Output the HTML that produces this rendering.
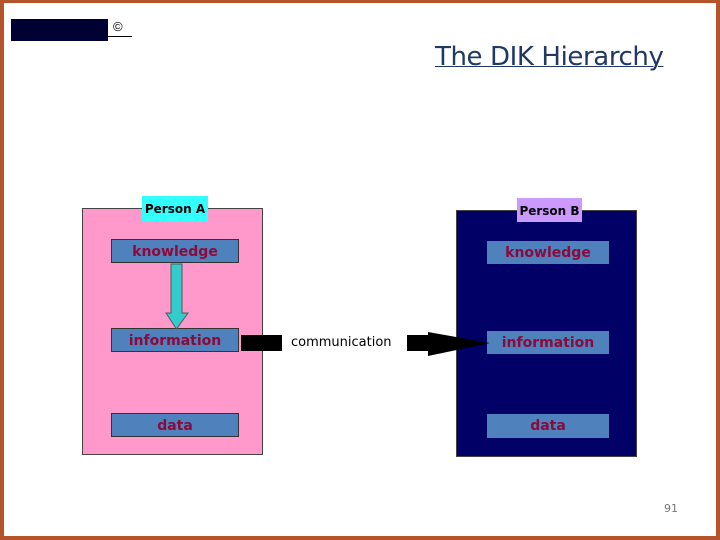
<!DOCTYPE html>
<html><head><style>
body{margin:0}
#p{position:relative;width:720px;height:540px;background:#fff;overflow:hidden;font-family:"DejaVu Sans","Liberation Sans",sans-serif}
.a{position:absolute;box-sizing:border-box;white-space:nowrap}
.b{background:#4f81bd;border:1px solid #333;color:#8b0a3a;font-weight:bold;font-size:14px;text-align:center;line-height:24px}
</style></head><body><div id="p">
<div class="a" style="left:0;top:0;width:720px;height:540px;border:4px solid #b5532a;border-top-width:3px"></div>
<div class="a" style="left:11px;top:19px;width:97px;height:22px;background:#000033"></div>
<div class="a" style="left:113px;top:19px;font-size:13px;font-family:'Liberation Sans',sans-serif">©</div>
<div class="a" style="left:108px;top:36px;width:24px;height:1px;background:#000"></div>
<div class="a" style="left:435px;top:42px;font-family:'DejaVu Sans',sans-serif;font-size:26px;color:#1f3864;text-decoration:underline;text-decoration-thickness:1px;letter-spacing:-0.4px">The DIK Hierarchy</div>

<div class="a" style="left:82px;top:208px;width:181px;height:247px;background:#ff99cc;border:1px solid #444"></div>
<div class="a" style="left:142px;top:196px;width:66px;height:25px;background:#33ffff;font-weight:bold;font-size:12px;text-align:center;line-height:26px">Person A</div>
<div class="a b" style="left:111px;top:239px;width:128px;height:24px">knowledge</div>
<div class="a b" style="left:111px;top:328px;width:128px;height:24px">information</div>
<div class="a b" style="left:111px;top:413px;width:128px;height:24px">data</div>

<div class="a" style="left:456px;top:210px;width:181px;height:247px;background:#000066;border:1px solid #444"></div>
<div class="a" style="left:517px;top:198px;width:65px;height:24px;background:#cc99ff;font-weight:bold;font-size:12px;text-align:center;line-height:27px">Person B</div>
<div class="a b" style="left:487px;top:241px;width:122px;height:23px;border:none">knowledge</div>
<div class="a b" style="left:487px;top:331px;width:122px;height:23px;border:none">information</div>
<div class="a b" style="left:487px;top:414px;width:122px;height:24px;border:none">data</div>

<svg class="a" style="left:0;top:0" width="720" height="540">
<polygon points="171,264 182,264 182,313 188,313 176.5,329 166,313 171,313" fill="#33cccc" stroke="#555" stroke-width="1"/>
<rect x="241" y="335" width="41" height="16" fill="#000"/>
<polygon points="407,335 428,335 428,332 490,343 428,356 428,351 407,351" fill="#000"/>
</svg>
<div class="a" style="left:291px;top:335px;font-size:13px">communication</div>
<div class="a" style="left:664px;top:502px;font-size:11px;color:#777">91</div>
</div></body></html>
